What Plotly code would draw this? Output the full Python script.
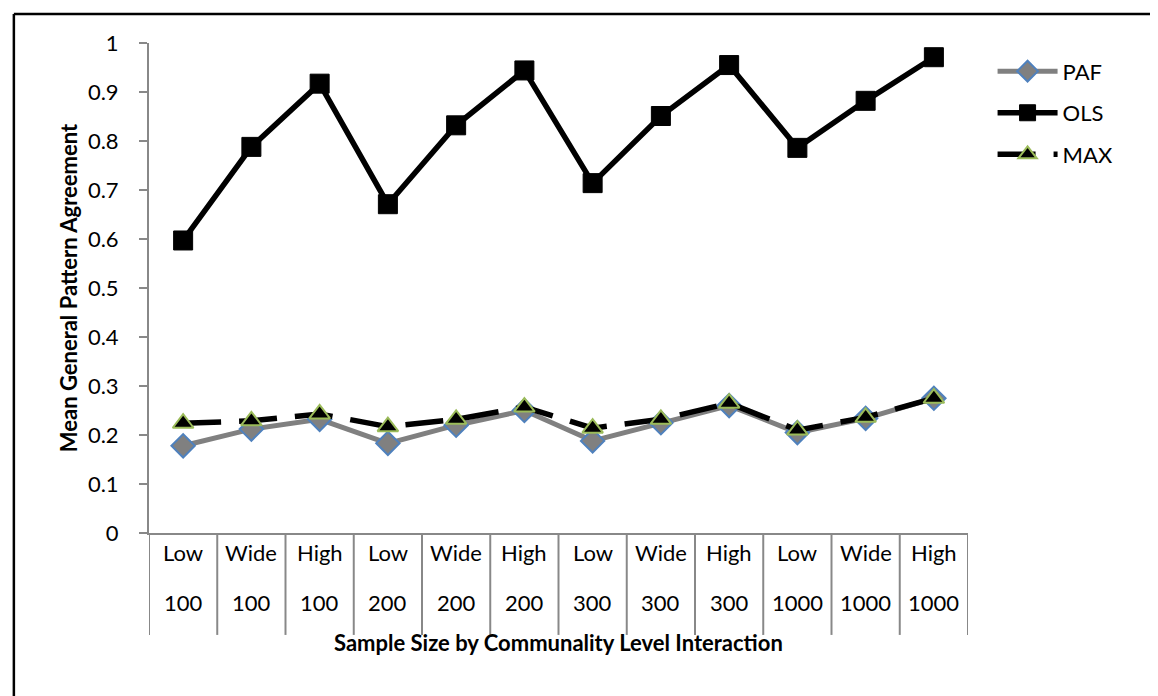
import plotly.graph_objects as go

levels = ["Low", "Wide", "High"] * 4
sizes = ["100"] * 3 + ["200"] * 3 + ["300"] * 3 + ["1000"] * 3
cats = [f"{a} {b}" for a, b in zip(levels, sizes)]

paf = [0.178, 0.212, 0.232, 0.183, 0.220, 0.250, 0.188, 0.225, 0.260, 0.205, 0.234, 0.275]
ols = [0.597, 0.788, 0.917, 0.671, 0.832, 0.944, 0.714, 0.851, 0.955, 0.786, 0.882, 0.971]
mx = [0.224, 0.229, 0.243, 0.217, 0.232, 0.257, 0.214, 0.232, 0.265, 0.210, 0.236, 0.275]

FONT = "Lato, Carlito, Calibri, sans-serif"

fig = go.Figure()
fig.add_trace(go.Scatter(x=cats, y=paf, name="PAF", mode="lines+markers", legendgroup="a",
                         line=dict(color="#808080", width=5),
                         marker=dict(symbol="diamond", size=18, color="#808080",
                                     line=dict(color="#4F81BD", width=2))))
fig.add_trace(go.Scatter(x=cats, y=ols, name="OLS", mode="lines+markers", legendgroup="b",
                         line=dict(color="black", width=5.5),
                         marker=dict(symbol="square", size=19, color="black",
                                     line=dict(color="black", width=1))))
fig.add_trace(go.Scatter(x=cats, y=mx, name="MAX", mode="lines+markers", legendgroup="c",
                         line=dict(color="black", width=5.5, dash="38px,18px"),
                         marker=dict(symbol="triangle-up", size=18, color="black",
                                     line=dict(color="#9BBB59", width=2))))

# category divider lines and two-row labels
shapes = []
for i in range(len(cats) + 1):
    shapes.append(dict(type="line", xref="x", yref="paper", x0=i - 0.5, x1=i - 0.5,
                       y0=0, y1=-0.208, line=dict(color="#888888", width=2)))
# outer frame (left and top edges visible)
shapes.append(dict(type="line", xref="paper", yref="paper", x0=-0.165, x1=1.3,
                   y0=1.059, y1=1.059, line=dict(color="black", width=2.5)))
shapes.append(dict(type="line", xref="paper", yref="paper", x0=-0.165, x1=-0.165,
                   y0=-0.5, y1=1.059, line=dict(color="black", width=2.5)))

annotations = []
for c, lv, sz in zip(cats, levels, sizes):
    annotations.append(dict(x=c, xref="x", y=-0.071, yref="paper", text=lv,
                            showarrow=False, font=dict(size=22, color="black")))
    annotations.append(dict(x=c, xref="x", y=-0.173, yref="paper", text=sz,
                            showarrow=False, font=dict(size=22, color="black")))

fig.update_layout(
    width=1158, height=696,
    margin=dict(l=141, r=198, t=35, b=171),
    plot_bgcolor="white", paper_bgcolor="white",
    font=dict(family=FONT, size=22, color="black"),
    showlegend=True,
    legend=dict(x=1.03, y=0.985, xanchor="left", yanchor="top", font=dict(size=22),
                tracegroupgap=10, itemwidth=60, bgcolor="rgba(0,0,0,0)"),
    xaxis=dict(type="category", range=[-0.5, 11.5], showticklabels=False, ticks="",
               showgrid=False, showline=True, linecolor="#888888", linewidth=2, zeroline=False),
    yaxis=dict(range=[0, 1], dtick=0.1, tick0=0, ticks="outside", ticklen=8, tickwidth=2,
               tickcolor="#888888", showline=True, linecolor="#888888", linewidth=2,
               showgrid=False, zeroline=False, tickfont=dict(size=22), ticklabelstandoff=16,
               title=dict(text="<b>Mean General Pattern Agreement</b>", font=dict(size=22),
                          standoff=4)),
    shapes=shapes,
    annotations=annotations + [dict(x=0.5, xref="paper", y=-0.256, yref="paper",
                                    text="<b>Sample Size by Communality Level Interaction</b>",
                                    showarrow=False, font=dict(size=22))],
)

fig.write_html("out.html")
